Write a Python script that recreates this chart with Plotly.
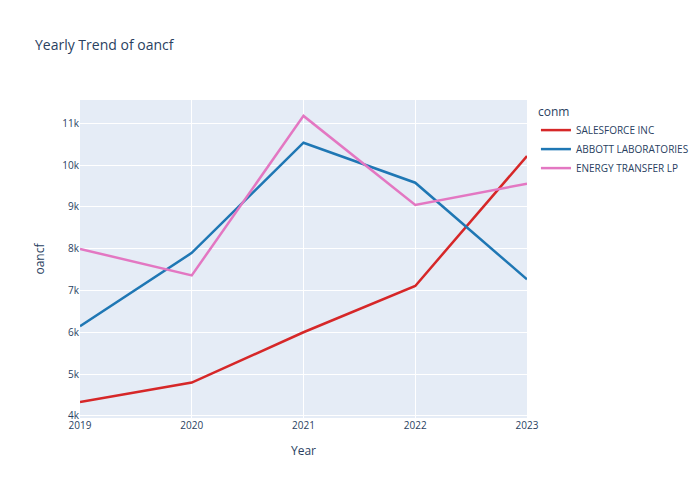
import pandas as pd
import plotly.express as px

years = [2019, 2020, 2021, 2022, 2023]
companies = ["SALESFORCE INC", "ABBOTT LABORATORIES", "ENERGY TRANSFER LP"]
salesforce = [4332, 4799, 6002, 7109, 10218]
abbott = [6144, 7900, 10535, 9578, 7267]
energy_transfer = [7995, 7362, 11176, 9047, 9554]
colors = ["#d62728", "#1f77b4", "#e377c2"]

rows = []
for name, vals in zip(companies, [salesforce, abbott, energy_transfer]):
    for y, v in zip(years, vals):
        rows.append({"Year": y, "oancf": v, "conm": name})
df = pd.DataFrame(rows)

fig = px.line(
    df,
    x="Year",
    y="oancf",
    color="conm",
    title="Yearly Trend of oancf",
    color_discrete_sequence=colors,
)
fig.update_traces(line=dict(width=2.5))
# page has an 8px body margin, so the figure is shrunk and shifted to line up
fig.update_layout(
    width=692,
    height=492,
    template="plotly",
    font=dict(size=10),
    margin=dict(l=72, r=173, t=92, b=82, autoexpand=False),
    title=dict(
        x=27 / 692, xanchor="left",
        y=1 - 37 / 492, yanchor="middle", yref="container",
        font=dict(size=14),
    ),
)
fig.update_xaxes(dtick=1)

fig.write_html("out.html")
